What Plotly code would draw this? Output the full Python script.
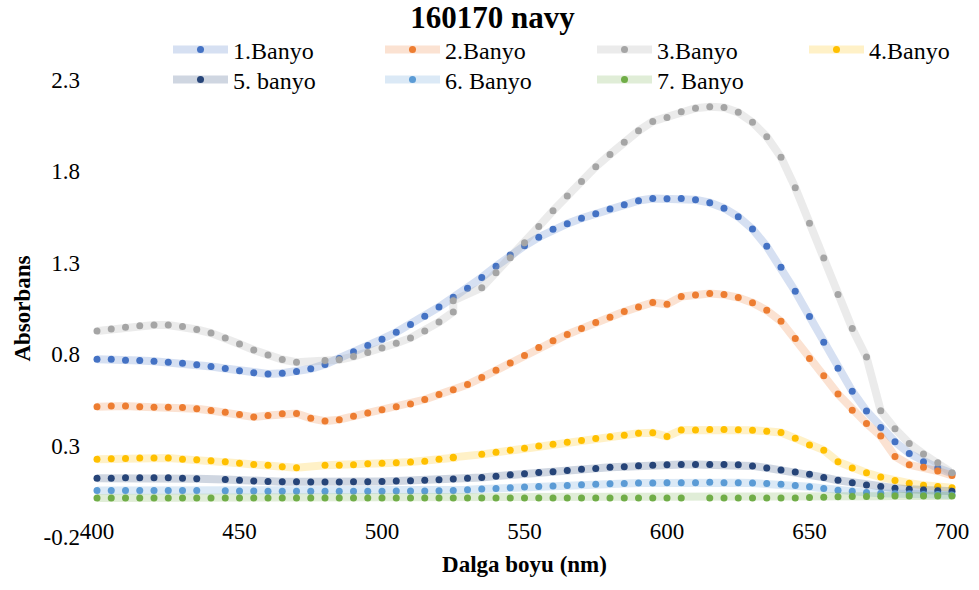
import plotly.graph_objects as go

# Wavelength grid (nm)
wavelengths = [400, 405, 410, 415, 420, 425, 430, 435, 440, 445, 450, 455, 460, 465, 470,
               475, 480, 485, 490, 495, 500, 505, 510, 515, 520, 525, 530, 535, 540, 545,
               550, 555, 560, 565, 570, 575, 580, 585, 590, 595, 600, 605, 610, 615, 620,
               625, 630, 635, 640, 645, 650, 655, 660, 665, 670, 675, 680, 685, 690, 695, 700]

# Grid used by baths 3 and 4 (525 nm recorded twice, no 530 nm reading)
wavelengths_b34 = [400, 405, 410, 415, 420, 425, 430, 435, 440, 445, 450, 455, 460, 465, 470,
                   475, 480, 485, 490, 495, 500, 505, 510, 515, 520, 525, 525, 535, 540, 545,
                   550, 555, 560, 565, 570, 575, 580, 585, 590, 595, 600, 605, 610, 615, 620,
                   625, 630, 635, 640, 645, 650, 655, 660, 665, 670, 675, 680, 685, 690, 695, 700]

banyo_1 = [0.773, 0.773, 0.767, 0.766, 0.762, 0.756, 0.751, 0.742, 0.733, 0.722, 0.709, 0.698,
           0.692, 0.696, 0.705, 0.720, 0.744, 0.776, 0.813, 0.848, 0.882, 0.920, 0.962, 1.008,
           1.058, 1.111, 1.161, 1.220, 1.281, 1.342, 1.393, 1.440, 1.483, 1.514, 1.544, 1.569,
           1.594, 1.617, 1.640, 1.652, 1.651, 1.652, 1.645, 1.629, 1.599, 1.552, 1.485, 1.390,
           1.275, 1.144, 1.006, 0.866, 0.723, 0.598, 0.489, 0.399, 0.321, 0.257, 0.212, 0.177,
           0.148]

banyo_2 = [0.512, 0.516, 0.516, 0.512, 0.510, 0.510, 0.509, 0.501, 0.492, 0.483, 0.470, 0.456,
           0.465, 0.474, 0.476, 0.449, 0.434, 0.442, 0.460, 0.478, 0.496, 0.512, 0.528, 0.552,
           0.580, 0.605, 0.634, 0.672, 0.712, 0.752, 0.793, 0.836, 0.873, 0.908, 0.940, 0.973,
           1.002, 1.033, 1.058, 1.083, 1.073, 1.115, 1.124, 1.132, 1.126, 1.110, 1.082, 1.040,
           0.980, 0.886, 0.777, 0.682, 0.582, 0.494, 0.421, 0.352, 0.241, 0.195, 0.181, 0.161,
           0.137]

banyo_3 = [0.927, 0.938, 0.948, 0.955, 0.960, 0.960, 0.951, 0.935, 0.916, 0.889, 0.856, 0.823,
           0.795, 0.771, 0.756, None, 0.766, 0.770, 0.787, 0.809, 0.834, 0.860, 0.889, 0.927,
           0.976, 1.031, 1.093, 1.164, 1.245, 1.327, 1.409, 1.499, 1.585, 1.666, 1.745, 1.825,
           1.893, 1.960, 2.022, 2.073, 2.095, 2.126, 2.146, 2.153, 2.150, 2.123, 2.069, 1.990,
           1.878, 1.711, 1.516, 1.326, 1.126, 0.940, 0.784, 0.490, 0.392, 0.312, 0.254, 0.206,
           0.151]

banyo_4 = [0.226, 0.228, 0.230, 0.232, 0.232, 0.232, 0.226, 0.223, 0.217, 0.212, 0.204, 0.197,
           0.192, 0.184, 0.179, None, 0.192, 0.193, 0.195, 0.201, 0.204, 0.206, 0.210, 0.214,
           0.225, 0.233, 0.236, 0.252, 0.263, 0.274, 0.285, 0.298, 0.308, 0.319, 0.328, 0.339,
           0.348, 0.357, 0.367, 0.370, 0.350, 0.385, 0.386, 0.388, 0.388, 0.387, 0.384, 0.379,
           0.372, 0.340, 0.303, 0.275, 0.212, 0.177, 0.151, 0.128, 0.109, 0.094, 0.083, 0.076,
           0.069]

banyo_5 = [0.121, 0.122, 0.124, 0.124, 0.124, 0.124, 0.122, 0.119, None, 0.115, 0.110, 0.106,
           0.104, 0.102, 0.102, 0.101, 0.101, 0.101, 0.102, 0.102, 0.104, 0.106, 0.108, 0.110,
           0.113, 0.117, 0.121, 0.126, 0.133, 0.140, 0.146, 0.153, 0.157, 0.164, 0.170, 0.175,
           0.181, 0.184, 0.190, 0.193, 0.195, 0.197, 0.197, 0.197, 0.197, 0.195, 0.189, 0.178,
           0.167, 0.155, 0.143, 0.126, 0.110, 0.097, 0.085, 0.076, 0.067, 0.061, 0.057, 0.053,
           0.050]

banyo_6 = [0.055, 0.055, 0.055, 0.055, 0.055, 0.055, 0.055, 0.055, None, 0.053, 0.051, 0.051,
           0.050, 0.050, 0.050, 0.050, 0.050, 0.050, 0.050, 0.050, 0.050, 0.051, 0.051, 0.051,
           0.053, 0.055, 0.058, 0.062, 0.066, 0.069, 0.073, 0.076, 0.079, 0.082, 0.086, 0.088,
           0.091, 0.093, 0.095, 0.095, 0.097, 0.097, 0.097, 0.099, 0.097, 0.097, 0.095, 0.092,
           0.088, 0.082, 0.075, 0.066, 0.056, 0.050, 0.044, 0.040, 0.037, 0.035, 0.033, 0.032,
           0.030]

banyo_7 = [0.014, 0.014, 0.014, 0.014, 0.014, 0.014, 0.014, 0.014, 0.014, 0.014, 0.014, 0.014,
           0.014, 0.014, 0.014, 0.014, 0.014, 0.014, 0.014, 0.014, 0.014, 0.014, 0.014, 0.014,
           0.014, 0.014, 0.014, 0.014, 0.014, 0.014, 0.014, 0.014, 0.014, 0.014, 0.014, 0.014,
           0.014, 0.014, 0.014, 0.014, 0.014, 0.013, None, 0.013, 0.013, 0.013, 0.013, 0.013,
           0.013, 0.014, 0.016, 0.018, 0.020, 0.021, 0.022, 0.023, 0.024, 0.024, 0.024, 0.024,
           0.024]

series_names = ["1.Banyo", "2.Banyo", "3.Banyo", "4.Banyo", "5. banyo", "6. Banyo", "7. Banyo"]
series_values = [banyo_1, banyo_2, banyo_3, banyo_4, banyo_5, banyo_6, banyo_7]
series_x = [wavelengths, wavelengths, wavelengths_b34, wavelengths_b34,
            wavelengths, wavelengths, wavelengths]
marker_colors = ["#4472C4", "#ED7D31", "#A5A5A5", "#FFC000", "#264478", "#5B9BD5", "#70AD47"]

x_ticks = [400, 450, 500, 550, 600, 650, 700]
y_ticks = [-0.2, 0.3, 0.8, 1.3, 1.8, 2.3]
y_tick_text = ["-0.2", "0.3", "0.8", "1.3", "1.8", "2.3"]


def faded(hex_color, alpha):
    h = hex_color.lstrip("#")
    r, g, b = int(h[0:2], 16), int(h[2:4], 16), int(h[4:6], 16)
    return f"rgba({r},{g},{b},{alpha})"


SERIF = "Liberation Serif, Times New Roman, serif"

fig = go.Figure()
for name, xs, ys, col in zip(series_names, series_x, series_values, marker_colors):
    fig.add_trace(go.Scatter(
        x=xs, y=ys, name=name, mode="lines+markers",
        connectgaps=True, cliponaxis=False,
        line=dict(color=faded(col, 0.22), width=8),
        marker=dict(color=col, size=7, line=dict(width=0)),
        legend="legend" if name in series_names[:4] else "legend2",
    ))

legend_common = dict(
    orientation="h", xref="container", yref="container",
    xanchor="left", yanchor="middle",
    entrywidth=142, entrywidthmode="pixels", itemwidth=55,
    font=dict(family=SERIF, size=24, color="#000000"),
    bgcolor="rgba(0,0,0,0)", borderwidth=0,
)

fig.update_layout(
    width=979, height=590,
    margin=dict(l=97, r=27, t=80, b=53, autoexpand=False),
    paper_bgcolor="white", plot_bgcolor="white",
    font=dict(family=SERIF, size=23, color="#000000"),
    title=dict(text="<b>160170 navy</b>", x=0.503, xanchor="center",
               y=1 - 17 / 590, yanchor="middle", yref="container",
               font=dict(family=SERIF, size=31, color="#000000")),
    legend=dict(x=168 / 979, y=1 - 50 / 590, **legend_common),
    legend2=dict(x=168 / 979, y=1 - 80 / 590, **legend_common),
    showlegend=True,
)

fig.update_xaxes(
    range=[400, 700], tickvals=x_ticks, ticks="", showgrid=False, zeroline=False,
    showline=False, ticklabelstandoff=-22,
    tickfont=dict(family=SERIF, size=23, color="#000000"),
    title=dict(text="<b>Dalga boyu (nm)</b>", standoff=12,
               font=dict(family=SERIF, size=23, color="#000000")),
)
fig.update_yaxes(
    range=[-0.2, 2.3], tickvals=y_ticks, ticktext=y_tick_text, ticks="",
    showgrid=False, zeroline=False, showline=False, ticklabelstandoff=16,
    tickfont=dict(family=SERIF, size=23, color="#000000"),
    title=dict(text="<b>Absorbans</b>", standoff=6,
               font=dict(family=SERIF, size=23, color="#000000")),
)

fig.write_html("out.html")
